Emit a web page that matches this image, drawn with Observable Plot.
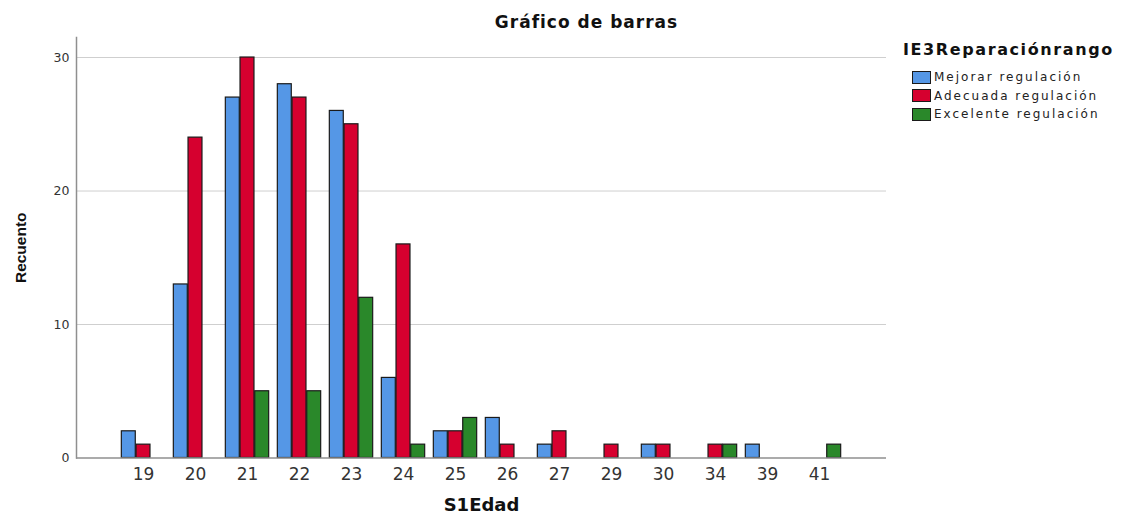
<!DOCTYPE html>
<html>
<head>
<meta charset="utf-8">
<script src="https://cdn.jsdelivr.net/npm/d3@7"></script>
<script src="https://cdn.jsdelivr.net/npm/@observablehq/plot@0.6"></script>
<style>
  html, body { margin: 0; padding: 0; background: #fff; }
  #wrap { position: relative; width: 1121px; height: 515px; overflow: hidden; font-family: "DejaVu Sans", sans-serif; }
  #chart { position: absolute; left: 0; top: 0; }
  #title { position: absolute; left: 0; width: 1173px; top: 14px; text-align: center; font-weight: bold; font-size: 17px; line-height: 17px; letter-spacing: 1px; color: #111; }
  #legend { position: absolute; left: 903px; top: 40px; color: #111; }
  #legend .lt { font-weight: bold; font-size: 16px; line-height: 20px; letter-spacing: 1.6px; margin-bottom: 8px; }
  #legend .row { display: flex; align-items: center; height: 18.5px; margin-left: 9px; }
  #legend .sw { width: 17px; height: 11px; border: 1px solid #1a1a1a; margin-right: 3px; box-sizing: content-box; }
  #legend .tx { font-size: 12px; letter-spacing: 2px; color: #222; }
</style>
</head>
<body>
<div id="wrap">
  <div id="chart"></div>
  <div id="title">Gráfico de barras</div>
  <div id="legend"></div>
</div>
<script>
// ---- data ----
const edades = ["19","20","21","22","23","24","25","26","27","29","30","34","39","41"];
const series = ["Mejorar regulación","Adecuada regulación","Excelente regulación"];
const mejorar   = [2,13,27,28,26, 6,2,3,1,0,1,0,1,0];
const adecuada  = [1,24,30,27,25,16,2,1,2,1,1,1,0,0];
const excelente = [0, 0, 5, 5,12, 1,3,0,0,0,0,1,0,1];
const colores = ["#5597e6","#d6002f","#2a882a"];
const yTicks = [0, 10, 20, 30];
const legendTitle = "IE3Reparaciónrango";
const xLabel = "S1Edad";
const yLabel = "Recuento";

// ---- table ----
const valores = [mejorar, adecuada, excelente];
const rows = [];
series.forEach((s, i) => edades.forEach((e, j) => rows.push({edad: e, serie: s, valor: valores[i][j]})));

// ---- layout ----
const W = 1121, H = 515;
const mL = 76, mR = 235, mT = 37, mB = 57.5;
const padOuter = 0.677;
const step = (W - mL - mR) / (edades.length + 2 * padOuter);
const barW = 14.7;
const inset = (step - barW) / 2;

const barMarks = series.map((s, i) =>
  Plot.barY(rows.filter(d => d.serie === s && d.valor > 0), {
    x: "edad", y: "valor", fill: "serie",
    stroke: "#1a1a1a", strokeWidth: 1.2,
    insetLeft: inset, insetRight: inset, dx: (i - 1) * barW
  })
);

const plot = Plot.plot({
  width: W, height: H,
  marginLeft: mL, marginRight: mR, marginTop: mT, marginBottom: mB,
  style: {fontFamily: "DejaVu Sans, sans-serif", background: "transparent", color: "#222"},
  x: {type: "band", domain: edades, paddingInner: 0, paddingOuter: padOuter, align: 0.5},
  y: {domain: [0, 31.5]},
  color: {domain: series, range: colores},
  marks: [
    Plot.ruleY(yTicks.filter(t => t > 0), {stroke: "#cfcfcf", strokeWidth: 1}),
    Plot.frame({anchor: "left", stroke: "#8f8f8f", strokeWidth: 1.5}),
    ...barMarks,
    Plot.ruleY([0], {stroke: "#8f8f8f", strokeWidth: 1.5}),
    Plot.axisY({ticks: yTicks, tickSize: 0, tickPadding: 7, fontSize: 12.5, fill: "#333", label: null}),
    Plot.axisX({tickSize: 0, tickPadding: 10, fontSize: 17, fill: "#333", label: null}),
    Plot.text([yLabel], {text: d => d, frameAnchor: "left", dx: -55, rotate: -90, textAnchor: "middle", lineAnchor: "middle", fontFamily: "Liberation Sans, Arial, sans-serif", fontWeight: "bold", fontSize: 15.5, fill: "#111"}),
    Plot.text([xLabel], {text: d => d, frameAnchor: "bottom", dy: 47, lineAnchor: "middle", fontWeight: "bold", fontSize: 18, fill: "#111"})
  ]
});
document.getElementById("chart").appendChild(plot);

// ---- legend ----
const lg = document.getElementById("legend");
const lt = document.createElement("div");
lt.className = "lt"; lt.textContent = legendTitle; lg.appendChild(lt);
series.forEach((s, i) => {
  const r = document.createElement("div"); r.className = "row";
  const sw = document.createElement("div"); sw.className = "sw"; sw.style.background = colores[i];
  const tx = document.createElement("div"); tx.className = "tx"; tx.textContent = s;
  r.appendChild(sw); r.appendChild(tx); lg.appendChild(r);
});
</script>
</body>
</html>
